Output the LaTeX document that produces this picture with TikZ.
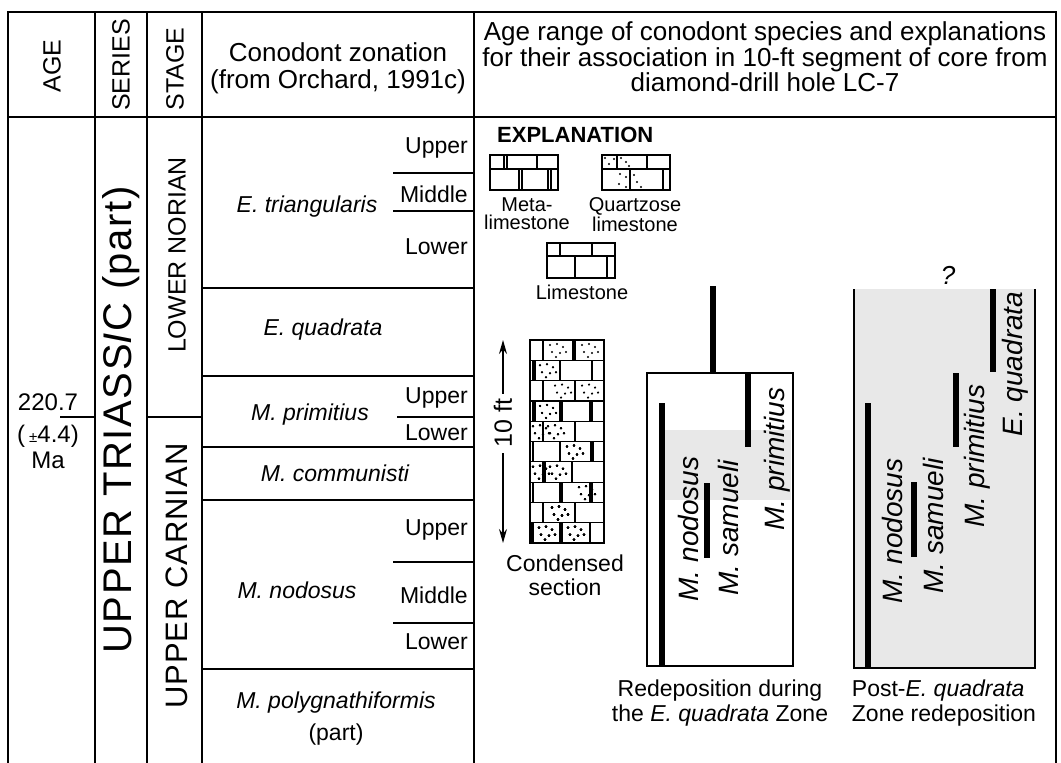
\documentclass[tikz,border=0pt]{standalone}
\usepackage{fontspec}
\setmainfont{Liberation Sans}
\usetikzlibrary{arrows.meta}

\newcommand{\fsz}[1]{\fontsize{#1}{#1}\selectfont}
% quartz grains in one brick, #1 = left edge, #2 = top edge
\newcommand{\grains}[2]{%
  \foreach \gx/\gy in {3/5,10/4,16/7,5/12,13/13,19/12,9/17}
    \fill (#1+\gx,#2+\gy) circle (1.1pt);}
% one course of the condensed section: #1 = course, #2 = joints, #3 = quartzose bricks
\newcommand{\course}[3]{%
  \pgfmathsetmacro{\ytop}{340+20.3*#1}%
  \foreach \v in {#2} \draw[hair] (\v,\ytop) -- (\v,\ytop+20.3);
  \foreach \g in {#3} \grains{\g}{\ytop}}

\begin{document}
\begin{tikzpicture}[x=1pt,y=-1pt,
  every node/.style={inner sep=0pt,font=\fsz{23}},
  rule/.style={line width=2.6pt},
  hair/.style={line width=1.2pt},
  bar/.style={line width=6pt},
  vlabel/.style={rotate=90,font=\fsz{25}},
  zone/.style={font=\fsz{23}\itshape},
  sub/.style={anchor=east},
  taxon/.style={rotate=90,font=\fsz{28}\itshape},
  stipple/.style={fill=black!9}]
\useasboundingbox (0,0) rectangle (1061,763);

% table frame
\draw[rule] (8,763) -- (8,12) -- (1056,12) -- (1056,763);
\draw[rule] (8,117) -- (1056,117);
\foreach \x in {95,202,474} \draw[rule] (\x,12) -- (\x,763);
\draw[line width=1.8pt] (147,12) -- (147,763);

% headings
\node[vlabel] (age) at (52,66) {AGE};
\node[vlabel] (series) at (121,65) {SERIES};
\node[vlabel] (stage) at (175,69) {STAGE};
\node[align=center,font=\fontsize{26}{27}\selectfont] (zonhead) at (338,68)
  {Conodont zonation\\(from Orchard, 1991c)};
\node[align=center,font=\fontsize{26}{25.5}\selectfont] (rangehead) at (765,57)
  {Age range of conodont species and explanations\\for their association in 10-ft segment of core from\\diamond-drill hole LC-7};

% age, series, stage
\draw[rule] (60,417) -- (95,417);
\node[font=\fsz{24}] (agenum) at (48,402) {220.7};
\node[font=\fsz{24}] (ageerr) at (48,436) {(\,{\fsz{15}±}4.4)};
\node[font=\fsz{24}] (ageunit) at (48,460) {Ma};
\node[vlabel,font=\fsz{40}\addfontfeatures{LetterSpace=4}] (trias) at (121,420)
  {UPPER TRIASS\textit{I}C (part)};
\draw[rule] (147,417) -- (202,417);
\node[vlabel] (norian) at (177,255) {LOWER NORIAN};
\node[vlabel,font=\fsz{31}\addfontfeatures{LetterSpace=3}] (carnian) at (177,576) {UPPER CARNIAN};

% conodont zones
\foreach \y in {288,376,447,500,669} \draw[rule] (202,\y) -- (474,\y);
\foreach \y in {173,211,562,623} \draw[rule] (393,\y) -- (474,\y);
\draw[rule] (397,417) -- (474,417);
\node[zone] (tri) at (307,207) {E. triangularis};
\node[zone] (qua) at (323,330) {E. quadrata};
\node[zone] (pri) at (310,415) {M. primitius};
\node[zone] (com) at (335,473) {M. communisti};
\node[zone] (nod) at (297,590) {M. nodosus};
\node[align=center,font=\fontsize{23}{32}\selectfont] (pol) at (336,719)
  {\textit{M. polygnathiformis}\\(part)};
\node[sub] (triU) at (468,148) {Upper};
\node[sub] (triM) at (468,194) {Middle};
\node[sub] (triL) at (468,247) {Lower};
\node[sub] (priU) at (468,398) {Upper};
\node[sub] (priL) at (468,433) {Lower};
\node[sub] (nodU) at (468,530) {Upper};
\node[sub] (nodM) at (468,595) {Middle};
\node[sub] (nodL) at (468,642) {Lower};

% explanation
\node[anchor=west,font=\fsz{22}\bfseries] (expl) at (497,135) {EXPLANATION};
\begin{scope}[hair]
\draw (490,155) rectangle (558,190) (490,169) -- (558,169);
\foreach \x in {504,507,537} \draw (\x,155) -- (\x,169);
\foreach \x in {519,522,548,551} \draw (\x,169) -- (\x,190);
\draw (602,155) rectangle (670,190) (602,169) -- (670,169);
\foreach \x in {617,647} \draw (\x,155) -- (\x,169);
\foreach \x in {630,663} \draw (\x,169) -- (\x,190);
\draw (547,243) rectangle (615,278) (547,256) -- (615,256);
\foreach \x in {560,592} \draw (\x,243) -- (\x,256);
\foreach \x in {575,607} \draw (\x,256) -- (\x,278);
\end{scope}
\foreach \gx/\gy in {605/158,609/164,614/159,621/158,626/162,629/166,
                     620/174,619/184,626/177,634/175,637/182,641/187,626/187}
  \fill (\gx,\gy) circle (1.1pt);
\node[align=center,font=\fontsize{20}{18}\selectfont] (metalab) at (527,214) {Meta-\\limestone};
\node[align=center,font=\fontsize{20}{20}\selectfont] (qtzlab) at (635,215) {Quartzose\\limestone};
\node[font=\fsz{20}] (limlab) at (582,292) {Limestone};

% condensed section
\course{0}{543,573,575}{547,579}
\course{1}{533,535,560,592}{537}
\course{2}{543,575}{552,579}
\course{3}{533,535,560,562,590,592}{537}
\course{4}{543,575}{530,545}
\course{5}{533,560,591,593}{564}
\course{6}{543,545,572}{530,547}
\course{7}{533,560,562,590,592}{576}
\course{8}{543,575}{549}
\course{9}{531,533,560,562,590}{536,565}
\foreach \i in {1,...,9} \draw[hair] (530,{340+20.3*\i}) -- (604,{340+20.3*\i});
\draw[line width=1.6pt] (530,340) rectangle (604,543);
\coordinate (cstop) at (503,340);
\coordinate (csbot) at (503,543);
\draw[line width=1.3pt,{Stealth[length=14pt,width=8pt]}-{Stealth[length=14pt,width=8pt]}]
  (cstop) -- (csbot) node[pos=0.41,fill=white,inner sep=5pt,rotate=90,font=\fsz{25}] (tenft) {10 ft};
\node[align=center,font=\fontsize{23}{24}\selectfont] (cscap) at (565,575) {Condensed\\section};

% redeposition during the E. quadrata Zone
\fill[stipple] (665,430) rectangle (791,500);
\draw[rule] (647,373) rectangle (793,666);
\draw[bar] (713,373) -- (713,286);
\draw[bar] (662,403) -- (662,666);
\draw[bar] (707,483) -- (707,558);
\draw[bar] (748,373) -- (748,447);
\node[taxon] (rnod) at (688,529) {M. nodosus};
\node[taxon] (rsam) at (728,528) {M. samueli};
\node[taxon] (rpri) at (777,459) {M. primitius};
\node[align=center,font=\fontsize{23}{25}\selectfont] (redcap) at (720,703)
  {Redeposition during\\the \textit{E. quadrata} Zone};

% post-E. quadrata Zone redeposition, open at the top
\fill[stipple] (854,289) rectangle (1035,668);
\draw[rule] (854,289) -- (854,668) -- (1035,668) -- (1035,289);
\draw[bar] (868,403) -- (868,668);
\draw[bar] (914,482) -- (914,557);
\draw[bar] (956,373) -- (956,447);
\draw[bar] (993,289) -- (993,372);
\node[taxon] (pnod) at (892,531) {M. nodosus};
\node[taxon] (psam) at (933,526) {M. samueli};
\node[taxon] (ppri) at (977,456) {M. primitius};
\node[taxon] (pqua) at (1015,364) {E. quadrata};
\node[font=\fsz{26}\itshape] (query) at (948,275) {?};
\node[align=left,font=\fontsize{23}{25}\selectfont] (postcap) at (944,703)
  {Post-\textit{E. quadrata}\\Zone redeposition};
\end{tikzpicture}
\end{document}
